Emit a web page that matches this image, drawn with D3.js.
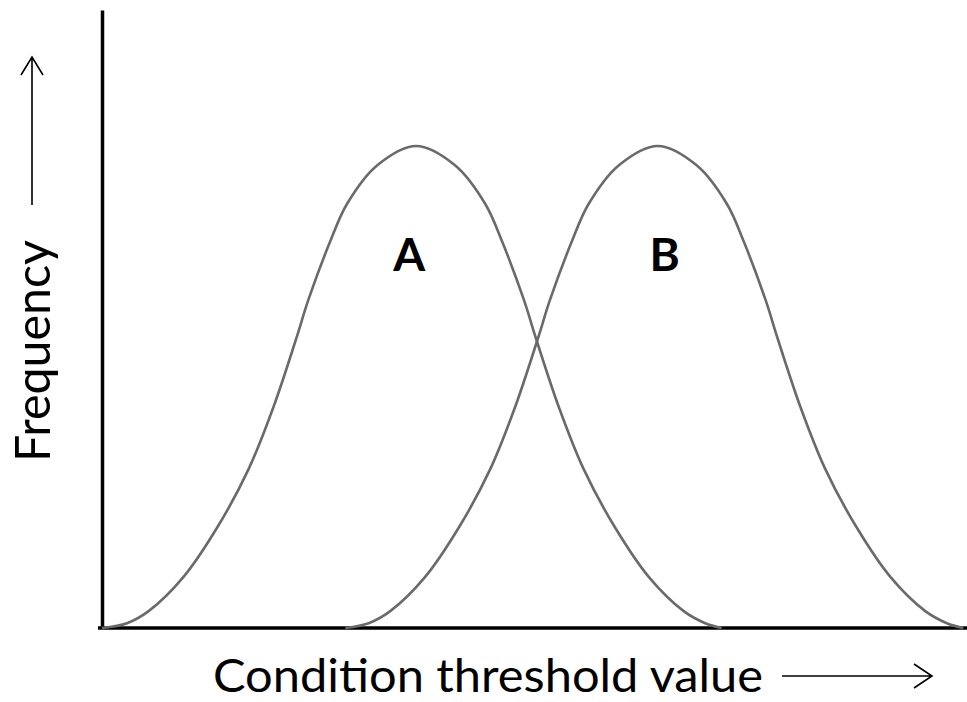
<!DOCTYPE html>
<html>
<head>
<meta charset="utf-8">
<script src="https://cdn.jsdelivr.net/npm/d3@7"></script>
<style>
  html, body { margin: 0; padding: 0; background: #fff; }
  svg { display: block; }
</style>
</head>
<body>
<div id="chart"></div>
<script>
// Curve samples: [threshold value, relative frequency]
const curveA = [
  [0.00, 0.000], [0.29, 0.010], [0.54, 0.035], [0.94, 0.105], [1.34, 0.210],
  [1.70, 0.330], [1.99, 0.460], [2.25, 0.600], [2.39, 0.680], [2.64, 0.800],
  [2.84, 0.880], [3.19, 0.960], [3.64, 1.000], [4.09, 0.960], [4.44, 0.880],
  [4.64, 0.800], [4.89, 0.680], [5.03, 0.600], [5.29, 0.460], [5.58, 0.330],
  [5.94, 0.210], [6.34, 0.105], [6.74, 0.035], [6.99, 0.010], [7.18, 0.000]
];
const curveB = [
  [2.82, 0.000], [3.09, 0.010], [3.34, 0.035], [3.74, 0.105], [4.14, 0.210],
  [4.50, 0.330], [4.79, 0.460], [5.05, 0.600], [5.19, 0.680], [5.44, 0.800],
  [5.64, 0.880], [5.99, 0.960], [6.44, 1.000], [6.89, 0.960], [7.24, 0.880],
  [7.44, 0.800], [7.69, 0.680], [7.83, 0.600], [8.09, 0.460], [8.38, 0.330],
  [8.74, 0.210], [9.14, 0.105], [9.54, 0.035], [9.79, 0.010], [9.98, 0.000]
];
const seriesNames = ['A', 'B'];
const labelX = [3.56, 6.52];
const labelY = 0.74;
const xTitle = 'Condition threshold value';
const yTitle = 'Frequency';

const W = 967, H = 702;
const font = 'Lato, "Open Sans", sans-serif';

const svg = d3.select('#chart').append('svg')
  .attr('width', W).attr('height', H);

const x = d3.scaleLinear().domain([0, 10]).range([102, 965]);
const y = d3.scaleLinear().domain([0, 1.282]).range([628, 10]);

// Axes (lines only, no ticks)
svg.append('g')
  .attr('transform', `translate(0,${y(0)})`)
  .call(d3.axisBottom(x).tickValues([]).tickSizeOuter(0))
  .call(g => g.select('.domain').attr('stroke', '#000').attr('stroke-width', 3.5)
    .attr('d', `M98,0H${W}`));

svg.append('g')
  .attr('transform', `translate(${x(0)},0)`)
  .call(d3.axisLeft(y).tickValues([]).tickSizeOuter(0))
  .call(g => g.select('.domain').attr('stroke', '#000').attr('stroke-width', 3.5));

// Curves
const line = d3.line()
  .x(d => x(d[0])).y(d => y(d[1]))
  .curve(d3.curveCatmullRom.alpha(0.5));

svg.append('g').selectAll('path')
  .data([curveA, curveB]).join('path')
  .attr('d', line)
  .attr('fill', 'none')
  .attr('stroke', '#6a6a6a')
  .attr('stroke-width', 2.6);

// Curve labels
svg.append('g').selectAll('text')
  .data(seriesNames).join('text')
  .text(d => d)
  .attr('x', (d, i) => x(labelX[i]))
  .attr('y', y(labelY))
  .attr('text-anchor', 'middle')
  .attr('font-family', font)
  .attr('font-weight', 'bold')
  .attr('font-size', 46)
  .attr('fill', '#000');

// Axis titles
svg.append('text')
  .text(xTitle)
  .attr('x', 213).attr('y', 692)
  .attr('font-family', font)
  .attr('font-size', 46)
  .attr('textLength', 550)
  .attr('lengthAdjust', 'spacingAndGlyphs')
  .attr('fill', '#000');

svg.append('text')
  .text(yTitle)
  .attr('transform', 'translate(50,462) rotate(-90)')
  .attr('font-family', font)
  .attr('font-size', 48)
  .attr('textLength', 222)
  .attr('lengthAdjust', 'spacingAndGlyphs')
  .attr('fill', '#000');

// Direction arrows
const arrows = svg.append('g')
  .attr('fill', 'none').attr('stroke', '#000').attr('stroke-width', 1.6);
arrows.append('path').attr('d', 'M782,676H932M914,664L932,676L914,688');
arrows.append('path').attr('d', 'M32,205V57M21,75L32,57L43,75');
</script>
</body>
</html>
